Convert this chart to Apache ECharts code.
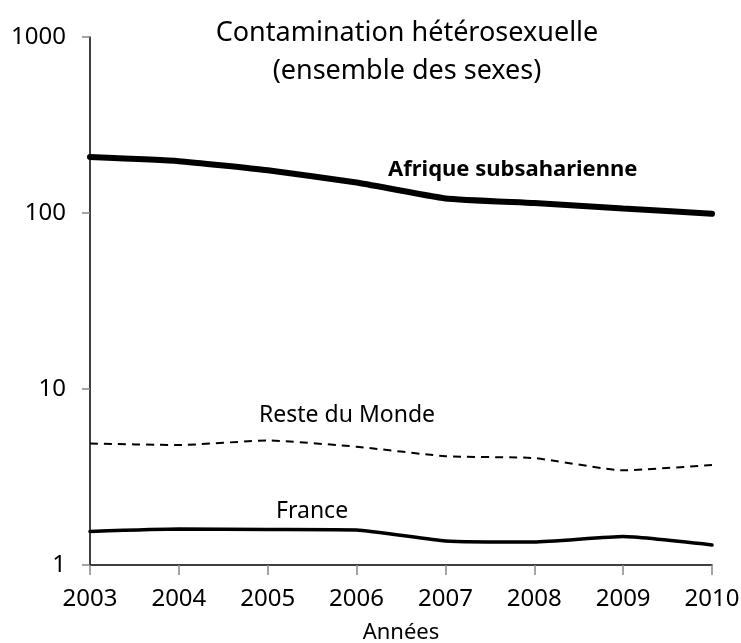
<!DOCTYPE html>
<html>
<head>
<meta charset="utf-8">
<script src="https://cdn.jsdelivr.net/npm/echarts@6/dist/echarts.min.js"></script>
<style>
    html, body { margin: 0; padding: 0; background: #fff; }
    #chart { width: 741px; height: 643px; }
</style>
</head>
<body>
<div id="chart"></div>
<script>
    // années et valeurs
    const years = ['2003', '2004', '2005', '2006', '2007', '2008', '2009', '2010']
    const afrique = [208, 197, 175, 149, 121, 114, 106, 99]
    const resteMonde = [4.9, 4.8, 5.1, 4.7, 4.15, 4.05, 3.45, 3.7]
    const france = [1.55, 1.6, 1.59, 1.58, 1.37, 1.35, 1.45, 1.3]
    const yTicks = [1, 10, 100, 1000]

    const font = 'Noto Sans'
    let myChart = echarts.init(document.getElementById('chart'))
    let option = {
        animation: false,
        backgroundColor: '#fff',
        textStyle: { fontFamily: font, color: '#000' },
        title: {
            text: 'Contamination hétérosexuelle\n(ensemble des sexes)',
            left: 402,
            textAlign: 'center',
            top: 9,
            textStyle: { fontFamily: font, fontSize: 27, fontWeight: 'normal', color: '#000', lineHeight: 38 }
        },
        grid: { left: 90, right: 29, top: 37, bottom: 78, outerBoundsMode: 'none', containLabel: false },
        xAxis: {
            type: 'category',
            data: years,
            boundaryGap: false,
            name: 'Années',
            nameLocation: 'middle',
            nameGap: 57,
            nameTextStyle: { fontFamily: font, fontSize: 22, color: '#000' },
            axisLine: { lineStyle: { color: '#000', width: 1.5 } },
            axisTick: { show: true, length: 10, alignWithLabel: true, lineStyle: { color: '#868686', width: 1.5 } },
            axisLabel: { margin: 22, fontFamily: font, fontSize: 24, color: '#000' },
            splitLine: { show: false }
        },
        yAxis: {
            type: 'log',
            logBase: 10,
            min: yTicks[0],
            max: yTicks[yTicks.length - 1],
            axisLine: { show: true, lineStyle: { color: '#000', width: 1.5 } },
            axisTick: { show: true, length: 8, lineStyle: { color: '#868686', width: 1.5 } },
            axisLabel: {
                margin: 24, fontFamily: font, fontSize: 24, color: '#000',
                formatter: function (v) { return String(Math.round(v)) }
            },
            splitLine: { show: false },
            minorTick: { show: false }
        },
        series: [
            {
                name: 'Afrique subsaharienne',
                type: 'line',
                data: afrique,
                symbol: 'none',
                smooth: 0.15,
                lineStyle: { color: '#000', width: 6, cap: 'round' }
            },
            {
                name: 'Reste du Monde',
                type: 'line',
                data: resteMonde,
                symbol: 'none',
                smooth: 0.15,
                lineStyle: { color: '#000', width: 2, type: [8, 6] }
            },
            {
                name: 'France',
                type: 'line',
                data: france,
                symbol: 'none',
                smooth: 0.15,
                lineStyle: { color: '#000', width: 3.5, cap: 'round' }
            }
        ],
        graphic: [
            {
                type: 'text', x: 388, y: 170,
                style: { text: 'Afrique subsaharienne', fontFamily: font, fontSize: 22, fontWeight: 'bold', fill: '#000', verticalAlign: 'middle' }
            },
            {
                type: 'text', x: 259, y: 415,
                style: { text: 'Reste du Monde', fontFamily: font, fontSize: 23, fill: '#000', verticalAlign: 'middle' }
            },
            {
                type: 'text', x: 276, y: 511,
                style: { text: 'France', fontFamily: font, fontSize: 23, fill: '#000', verticalAlign: 'middle' }
            }
        ]
    }
    myChart.setOption(option)
</script>
</body>
</html>
